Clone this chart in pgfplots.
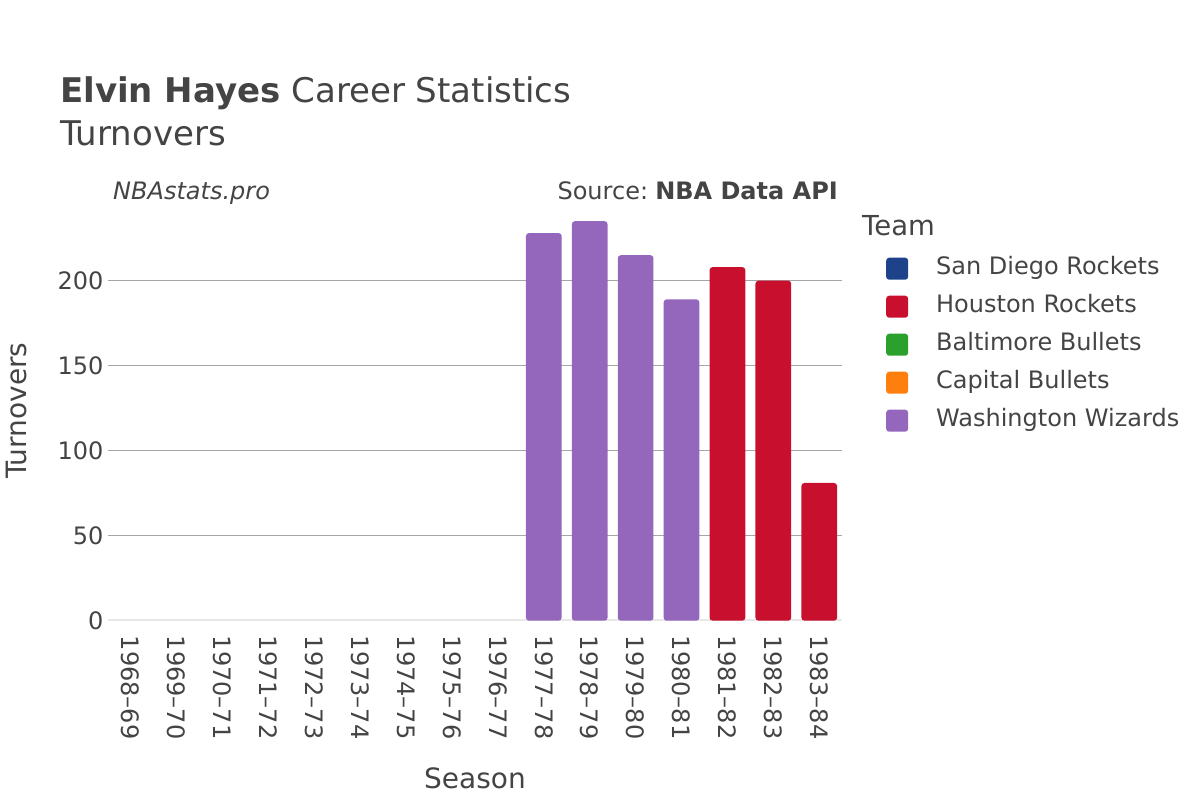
\documentclass[border=0pt]{standalone}
\usepackage{pgfplots}
\pgfplotsset{compat=1.18}
\usepackage{fontspec}
\setmainfont{DejaVu Sans}
\definecolor{txt}{HTML}{444444}
\definecolor{wiz}{HTML}{9467BD}
\definecolor{hou}{HTML}{C8102E}
\definecolor{sdr}{HTML}{1D428A}
\definecolor{bal}{HTML}{2CA02C}
\definecolor{cap}{HTML}{FF7F0E}
\definecolor{gridc}{HTML}{A6A6A6}
\definecolor{zeroc}{HTML}{E8E8E8}
\pgfplotsset{legsq/.style={legend image code/.code={\fill[draw=none, rounded corners=3pt] (0pt,-11pt) rectangle (22pt,11pt);}}}
\begin{document}
\begin{tikzpicture}[x=1pt,y=1pt]
\path[use as bounding box] (0,0) rectangle (1200,800);
\node[anchor=base west, font=\fontsize{34}{40}\selectfont, text=txt, inner sep=0] at (60,697) {\textbf{Elvin Hayes} Career Statistics};
\node[anchor=base west, font=\fontsize{34}{40}\selectfont, text=txt, inner sep=0] at (60,654) {Turnovers};
\node[anchor=base west, font=\fontsize{24}{28}\selectfont\itshape, text=txt, inner sep=0] at (113,600) {NBAstats.pro};
\node[anchor=base east, font=\fontsize{24}{28}\selectfont, text=txt, inner sep=0] at (838,600) {Source:\hspace{0.3em}\textbf{NBA Data API}};
\node[anchor=base west, font=\fontsize{27.5}{32}\selectfont, text=txt, inner sep=0] at (862,564) {Team};
\begin{axis}[
  at={(107.7pt,179.3pt)}, anchor=south west,
  width=734.5pt, height=419.9pt, scale only axis,
  xmin=-0.5, xmax=15.5, ymin=0, ymax=247,
  axis line style={draw=none}, tick style={draw=none},
  ymajorgrids, grid style={color=gridc, line width=1pt},
  ytick={0,50,100,150,200},
  /pgf/number format/assume math mode=true,
  xtick={0,...,15},
  xticklabels={1968--69,1969--70,1970--71,1971--72,1972--73,1973--74,1974--75,1975--76,1976--77,1977--78,1978--79,1979--80,1980--81,1981--82,1982--83,1983--84},
  xticklabel style={rotate=-90, anchor=west, font=\fontsize{24}{28}\selectfont, text=txt, inner sep=0pt, xshift=15pt},
  yticklabel style={font=\fontsize{24}{28}\selectfont, text=txt, inner sep=0pt, xshift=-4pt},
  xlabel={Season}, ylabel={Turnovers},
  xlabel style={at={(axis description cs:0.5,-0.3746)}, anchor=center, font=\fontsize{28}{32}\selectfont, text=txt},
  ylabel style={at={(axis description cs:-0.1235,0.5)}, anchor=center, font=\fontsize{28}{32}\selectfont, text=txt},
  legend style={at={(axis description cs:1.0555,0.8697)}, anchor=north west, draw=none, fill=none,
    font=\fontsize{24}{28}\selectfont, text=txt, row sep=16pt,
    nodes={inner sep=0pt, text height=17pt, text depth=5pt},
    /tikz/every odd column/.append style={column sep=28pt}},
  legend cell align=left,
]
\draw[color=zeroc, line width=2.5pt] (axis cs:-0.5,0) -- (axis cs:15.5,0);
\addplot[ybar, bar width=35.7pt, bar shift=0pt, fill=wiz, draw=none, rounded corners=3pt, forget plot]
  coordinates {(9,228) (10,235) (11,215) (12,189)};
\addplot[ybar, bar width=35.7pt, bar shift=0pt, fill=hou, draw=none, rounded corners=3pt, forget plot]
  coordinates {(13,208) (14,200) (15,81)};
\addlegendimage{legsq, fill=sdr}\addlegendentry{San Diego Rockets}
\addlegendimage{legsq, fill=hou}\addlegendentry{Houston Rockets}
\addlegendimage{legsq, fill=bal}\addlegendentry{Baltimore Bullets}
\addlegendimage{legsq, fill=cap}\addlegendentry{Capital Bullets}
\addlegendimage{legsq, fill=wiz}\addlegendentry{Washington Wizards}
\end{axis}
\end{tikzpicture}
\end{document}
